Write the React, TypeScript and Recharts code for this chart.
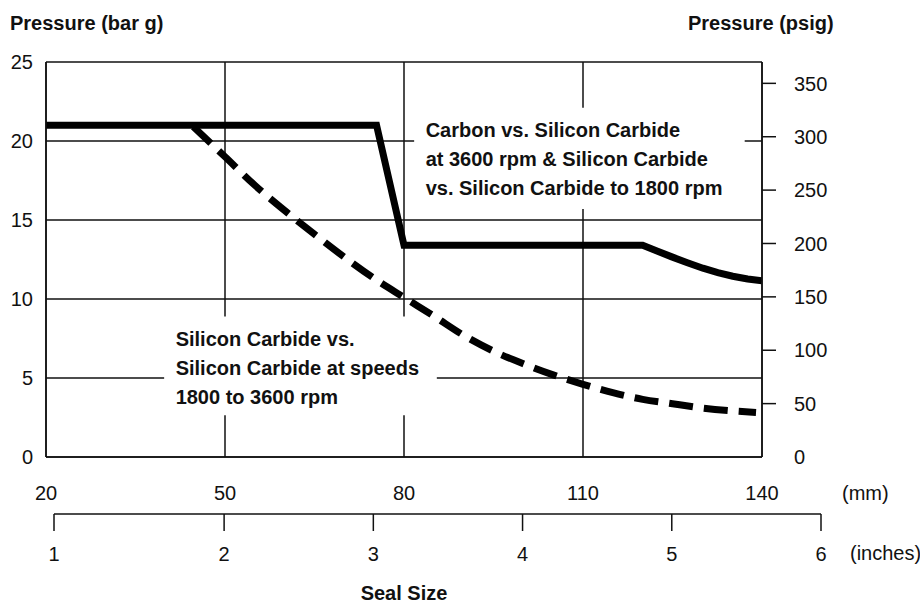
import { CartesianGrid, Line, LineChart, ReferenceArea, XAxis, YAxis } from "recharts";

const FONT = '"Liberation Sans", Arial, Helvetica, sans-serif';
const INK = "#111";

// axes
const mmTicks = [20, 50, 80, 110, 140];
const barTicks = [0, 5, 10, 15, 20, 25];
const psigTicks = [0, 50, 100, 150, 200, 250, 300, 350];
const inchTicks = [1, 2, 3, 4, 5, 6];
// where each inch tick sits on the mm scale
const inchTickMm = [21.5, 50, 75, 100, 125, 150];

// Carbon vs. Silicon Carbide (solid)
const carbonMm = [20, 75.4, 80, 120, 122.5, 125, 127.5, 130.1, 132.6, 135.1, 137.6, 140];
const carbonBar = [21, 21, 13.4, 13.4, 13.02, 12.65, 12.3, 11.95, 11.67, 11.44, 11.27, 11.15];

// Silicon Carbide vs. Silicon Carbide (dashed)
const siliconMm = [44.7, 50, 55, 60, 65, 70, 75, 80, 85, 90, 95, 100, 105, 110, 115, 120, 125, 130, 135, 139];
const siliconBar = [20.9, 19.0, 17.2, 15.6, 14.1, 12.65, 11.3, 10.1, 8.92, 7.7, 6.7, 5.9, 5.2, 4.6, 4.07, 3.65, 3.37, 3.1, 2.92, 2.82];

const upperNote = [
  "Carbon vs. Silicon Carbide",
  "at 3600 rpm & Silicon Carbide",
  "vs. Silicon Carbide to 1800 rpm",
];
const lowerNote = [
  "Silicon Carbide vs.",
  "Silicon Carbide at speeds",
  "1800 to 3600 rpm",
];

const carbonData = carbonMm.map((mm, i) => ({ mm, bar: carbonBar[i] }));
const siliconData = siliconMm.map((mm, i) => ({ mm, bar: siliconBar[i] }));
const inchData = inchTickMm.map((mm, i) => ({ mm, inch: inchTicks[i] }));

const tickStyle = { fill: INK, fontSize: 20, fontFamily: FONT };

function BoxNote({ viewBox, lines }: any) {
  if (!viewBox) return null;
  const { x, y } = viewBox;
  return (
    <text
      x={x + 11.5}
      y={y + 29.5}
      fontSize={20}
      fontWeight={700}
      fill={INK}
      fontFamily={FONT}
    >
      {lines.map((line: string, i: number) => (
        <tspan key={i} x={x + 11.5} dy={i === 0 ? 0 : 29}>
          {line}
        </tspan>
      ))}
    </text>
  );
}

// right axis ticks: outward tick line, none at 0 (corner of the frame)
function PsigTick({ x, y, payload }: any) {
  return (
    <g>
      {payload.value !== 0 && (
        <line x1={x - 32} x2={x - 18} y1={y} y2={y} stroke={INK} strokeWidth={1.5} />
      )}
      <text x={x} y={y} dy="0.36em" textAnchor="start" {...tickStyle}>
        {payload.value}
      </text>
    </g>
  );
}

function Caption({ left, top, bold, children, width, align }: any) {
  return (
    <div
      style={{
        position: "absolute",
        left,
        top,
        width,
        textAlign: align ?? "left",
        fontFamily: FONT,
        fontSize: 20,
        lineHeight: "24px",
        fontWeight: bold ? 700 : 400,
        color: INK,
        whiteSpace: "nowrap",
      }}
    >
      {children}
    </div>
  );
}

export default function App() {
  return (
    <div
      style={{
        position: "absolute",
        left: 0,
        top: 0,
        width: 920,
        height: 603,
        overflow: "hidden",
        background: "#fff",
      }}
    >
      <LineChart
        width={920}
        height={603}
        margin={{ top: 62, right: 78, bottom: 106, left: 6 }}
        style={{ fontFamily: FONT }}
      >
        <CartesianGrid yAxisId="bar" stroke={INK} strokeWidth={1.5} strokeOpacity={1} />
        <XAxis
          type="number"
          dataKey="mm"
          domain={[20, 140]}
          ticks={mmTicks}
          interval={0}
          allowDataOverflow
          height={40}
          axisLine={{ stroke: INK, strokeWidth: 1.5 }}
          tickLine={false}
          tickSize={0}
          tickMargin={29}
          tick={tickStyle}
        />
        <YAxis
          yAxisId="bar"
          type="number"
          domain={[0, 25]}
          ticks={barTicks}
          interval={0}
          allowDataOverflow
          width={40}
          axisLine={{ stroke: INK, strokeWidth: 1.5 }}
          tickLine={false}
          tickSize={0}
          tickMargin={13}
          tick={tickStyle}
        />
        <YAxis
          yAxisId="psig"
          orientation="right"
          type="number"
          domain={[0, 370]}
          ticks={psigTicks}
          interval={0}
          allowDataOverflow
          width={80}
          axisLine={{ stroke: INK, strokeWidth: 1.5 }}
          tickLine={false}
          tickSize={14}
          tickMargin={18}
          tick={(props: any) => <PsigTick {...props} />}
        />
        <ReferenceArea
          yAxisId="bar"
          x1={81.7}
          x2={137.1}
          y1={15.7}
          y2={22.1}
          fill="#fff"
          fillOpacity={1}
          stroke="none"
          label={<BoxNote lines={upperNote} />}
        />
        <ReferenceArea
          yAxisId="bar"
          x1={39.8}
          x2={85.5}
          y1={2.65}
          y2={8.9}
          fill="#fff"
          fillOpacity={1}
          stroke="none"
          label={<BoxNote lines={lowerNote} />}
        />
        <Line
          yAxisId="bar"
          data={carbonData}
          dataKey="bar"
          type="linear"
          stroke="#000"
          strokeWidth={7}
          dot={false}
          activeDot={false}
          isAnimationActive={false}
        />
        <Line
          yAxisId="bar"
          data={siliconData}
          dataKey="bar"
          type="monotone"
          stroke="#000"
          strokeWidth={7}
          strokeDasharray="24 11"
          dot={false}
          activeDot={false}
          isAnimationActive={false}
        />
      </LineChart>

      <div style={{ position: "absolute", left: 0, top: 470 }}>
        <LineChart
          width={920}
          height={100}
          data={inchData}
          margin={{ top: 0, right: 99, bottom: 0, left: 54 }}
          style={{ fontFamily: FONT }}
        >
          <XAxis
            type="number"
            dataKey="mm"
            domain={[21.5, 150]}
            ticks={inchTickMm}
            interval={0}
            allowDataOverflow
            height={56}
            axisLine={{ stroke: INK, strokeWidth: 1.5 }}
            tickLine={{ stroke: INK, strokeWidth: 1.5 }}
            tickSize={17}
            tickMargin={16}
            tick={tickStyle}
            tickFormatter={(v: number) => String(inchTicks[inchTickMm.indexOf(v)])}
          />
        </LineChart>
      </div>

      <Caption left={10} top={11} bold>
        Pressure (bar g)
      </Caption>
      <Caption left={688} top={11} bold>
        Pressure (psig)
      </Caption>
      <Caption left={842} top={481}>
        (mm)
      </Caption>
      <Caption left={850} top={541}>
        (inches)
      </Caption>
      <Caption left={304} top={581} width={200} align="center" bold>
        Seal Size
      </Caption>
    </div>
  );
}
